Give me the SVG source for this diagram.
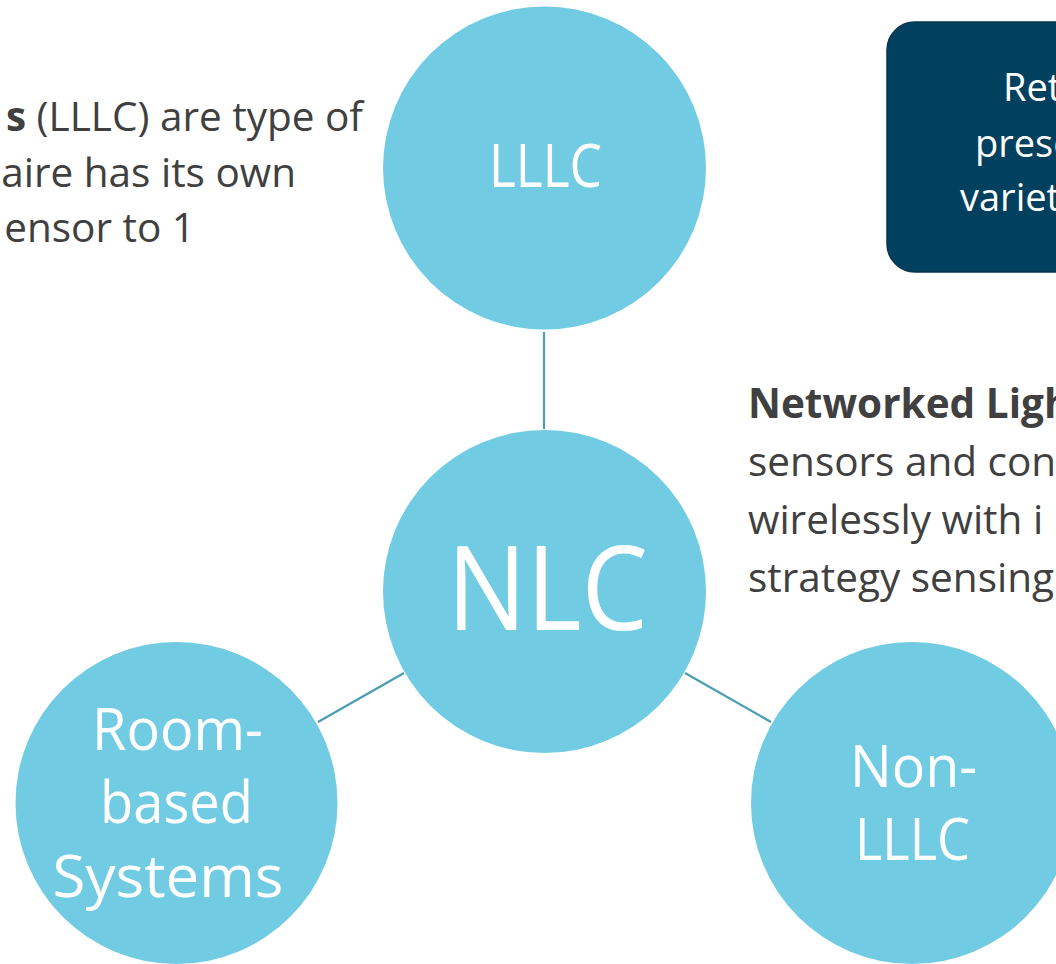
<svg xmlns="http://www.w3.org/2000/svg" width="1056" height="964" viewBox="0 0 1056 964">
<style>
.node{fill:#71CCE3;}
.lbl{font-family:"Open Sans","Liberation Sans",sans-serif;fill:#FFFFFF;text-anchor:middle;}
.body{font-family:"Open Sans","Liberation Sans",sans-serif;font-size:40.5px;fill:#404040;}
.box{font-family:"Open Sans","Liberation Sans",sans-serif;font-size:38px;fill:#FFFFFF;}
.conn{stroke:#4A9DB3;stroke-width:2.2;fill:none;}
</style>
<rect width="1056" height="964" fill="#FFFFFF"/>
<g id="connectors">
<line class="conn" x1="544" y1="332" x2="544" y2="429"/>
<line class="conn" x1="404" y1="673" x2="318" y2="722"/>
<line class="conn" x1="685" y1="673" x2="771" y2="722"/>
</g>
<g id="text-left">
<text class="body" x="363" y="131" text-anchor="end"><tspan font-weight="bold">s</tspan> (LLLC) are type of</text>
<text class="body" x="296" y="187" text-anchor="end">aire has its own</text>
<text class="body" x="195" y="242" text-anchor="end">ensor to 1</text>
</g>
<g id="box">
<rect x="887" y="22" width="220" height="250" rx="28" ry="28" fill="#01405F" stroke="#0B3550" stroke-width="1.5"/>
<text class="box" x="1003" y="101">Ret</text>
<text class="box" x="975" y="157">prese</text>
<text class="box" x="960" y="211">variet</text>
</g>
<g id="text-right">
<text class="body" x="748" y="418" font-weight="bold">Networked Ligh</text>
<text class="body" x="748" y="476">sensors and con</text>
<text class="body" x="748" y="534">wirelessly with i</text>
<text class="body" x="748" y="592">strategy sensing</text>
</g>
<g id="node-lllc">
<circle class="node" cx="544.5" cy="168" r="161.5"/>
<text class="lbl" x="545.5" y="187" font-size="60" textLength="113" lengthAdjust="spacingAndGlyphs">LLLC</text>
</g>
<g id="node-nlc">
<circle class="node" cx="544.5" cy="591.5" r="161.5"/>
<text class="lbl" x="547.5" y="630" font-size="118" textLength="201" lengthAdjust="spacingAndGlyphs">NLC</text>
</g>
<g id="node-room">
<circle class="node" cx="176.5" cy="803" r="161"/>
<text class="lbl" x="177.5" y="750" font-size="59" textLength="171" lengthAdjust="spacingAndGlyphs">Room-</text>
<text class="lbl" x="176.5" y="823" font-size="59" textLength="153" lengthAdjust="spacingAndGlyphs">based</text>
<text class="lbl" x="168" y="897" font-size="59" textLength="231" lengthAdjust="spacingAndGlyphs">Systems</text>
</g>
<g id="node-nonlllc">
<circle class="node" cx="912" cy="803" r="161"/>
<text class="lbl" x="913.5" y="787" font-size="59" textLength="127" lengthAdjust="spacingAndGlyphs">Non-</text>
<text class="lbl" x="912.5" y="860" font-size="59" textLength="115" lengthAdjust="spacingAndGlyphs">LLLC</text>
</g>
</svg>
